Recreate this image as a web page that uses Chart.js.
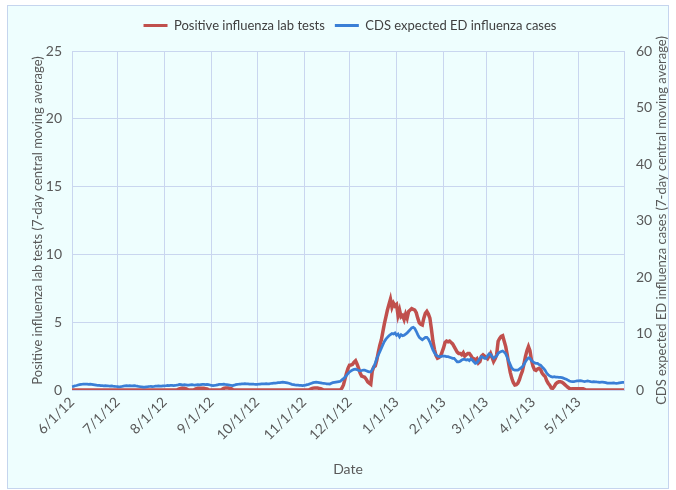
<!DOCTYPE html>
<html>
<head>
<meta charset="utf-8">
<script src="https://cdn.jsdelivr.net/npm/chart.js@4.4.0/dist/chart.umd.min.js"></script>
<style>
  html, body { margin: 0; padding: 0; background: #fff; }
</style>
</head>
<body>
<canvas id="graficoGripe" width="676" height="490"></canvas>
<script>
// daily values, 6/1/12 .. 5/31/13 (one line per month)
const labTests = [
  0,0,0,0,0,0,0,0,0,0,0,0,0,0,0,0,0,0,0,0,0,0,0,0,0,0,0,0,0,0,
  0,0,0,0,0,0,0,0,0,0,0,0,0,0,0,0,0,0,0,0,0,0,0,0,0,0,0,0,0,0,0,
  0,0,0,0,0,0,0,0,0,0.05,0.1,0.12,0.12,0.12,0.1,0.05,0,0,0,0,0.05,0.1,0.12,0.12,0.12,0.12,0.12,0.1,0.08,0.03,0,
  0,0,0,0,0,0,0,0.05,0.12,0.14,0.14,0.14,0.12,0.1,0.03,0,0,0,0,0,0,0,0,0,0,0,0,0,0,0,
  0,0,0,0,0,0,0,0,0,0,0,0,0,0,0,0,0,0,0,0,0,0,0,0,0,0,0,0,0,0,0,
  0,0,0,0,0.05,0.1,0.14,0.15,0.15,0.14,0.12,0.1,0.05,0,0,0,0,0,0,0,0,0,0,0,0,0.15,0.37,0.8,1.23,1.6,
  1.84,1.85,1.9,2.05,2.16,1.9,1.6,1.25,1.03,0.98,0.94,0.8,0.6,0.5,0.42,1.4,1.7,1.77,2.2,2.8,3.3,3.7,4.3,4.9,5.4,5.9,6.3,6.7,6.1,6.4,6.2,
  6.3,5.5,5.9,5.4,5.5,5.2,5.6,5.3,5.8,5.9,6.0,5.95,5.9,5.7,5.3,4.95,4.85,4.8,5.3,5.65,5.8,5.6,5.3,4.5,3.6,3.0,2.55,2.35,2.4,2.5,2.8,
  3.1,3.5,3.6,3.55,3.6,3.5,3.4,3.2,3.0,2.8,2.7,2.7,2.6,2.75,2.5,2.6,2.7,2.7,2.55,2.35,2.3,2.2,2.3,2.0,2.1,2.5,2.6,2.5,
  2.4,2.3,2.5,2.7,2.4,2.1,2.3,2.6,3.6,3.8,3.95,4.0,3.6,3.2,2.6,1.9,1.3,0.86,0.55,0.37,0.4,0.5,0.75,1.1,1.4,1.9,2.46,2.9,3.2,2.9,2.2,
  1.75,1.5,1.45,1.55,1.6,1.5,1.25,1.1,1.0,0.7,0.5,0.35,0.15,0.12,0.25,0.45,0.55,0.6,0.6,0.58,0.5,0.4,0.3,0.2,0.12,0.08,0.1,0.1,0.1,0.1,
  0.1,0.1,0.1,0.1,0.05,0,0,0,0,0,0,0,0,0,0,0,0,0,0,0,0,0,0,0,0,0,0,0,0,0,0
];

const cdsCases = [
  0.6,0.65,0.75,0.8,0.88,0.95,1.0,1.02,1.05,1.03,1.05,1.0,1.02,1.0,0.95,0.9,0.85,0.8,0.82,0.78,0.77,0.75,0.78,0.75,0.72,0.7,0.72,0.68,0.65,0.62,
  0.6,0.55,0.58,0.62,0.7,0.75,0.78,0.75,0.77,0.72,0.75,0.78,0.72,0.68,0.62,0.58,0.55,0.52,0.5,0.55,0.58,0.62,0.65,0.6,0.62,0.68,0.7,0.72,0.7,0.68,0.72,
  0.72,0.75,0.8,0.78,0.82,0.8,0.78,0.8,0.85,0.92,1.0,0.95,0.88,0.95,0.9,0.85,0.88,0.92,0.95,0.9,0.88,0.92,0.95,0.9,0.95,1.0,0.98,0.95,1.0,0.95,0.88,
  0.8,0.78,0.8,0.85,0.92,0.98,1.0,1.0,1.02,0.98,0.95,0.9,0.85,0.8,0.78,0.85,0.95,1.0,1.02,1.05,1.08,1.1,1.12,1.1,1.08,1.05,1.06,1.05,1.02,1.0,
  1.0,1.02,1.05,1.08,1.1,1.1,1.12,1.08,1.1,1.15,1.18,1.2,1.22,1.25,1.3,1.32,1.35,1.38,1.35,1.3,1.25,1.2,1.1,1.0,0.95,0.9,0.88,0.85,0.82,0.8,0.78,
  0.8,0.85,0.95,1.0,1.1,1.2,1.3,1.35,1.38,1.35,1.3,1.25,1.2,1.18,1.15,1.1,1.1,1.05,1.2,1.3,1.35,1.4,1.45,1.5,1.55,1.8,2.0,2.25,2.6,2.9,
  3.2,3.4,3.55,3.65,3.7,3.6,3.45,3.4,3.45,3.5,3.5,3.4,3.3,3.2,3.2,3.6,4.1,4.8,5.6,6.2,6.8,7.4,8.0,8.6,9.0,9.3,9.6,9.8,10.0,9.9,10.1,
  9.7,9.9,9.4,9.8,9.6,9.7,9.9,10.1,10.4,10.7,11.0,11.1,10.9,10.4,9.8,9.3,9.1,8.9,9.1,9.3,9.3,9.0,8.5,7.8,7.1,6.6,6.2,6.0,5.9,5.9,6.0,
  6.0,6.0,5.9,5.9,5.8,5.7,5.6,5.6,5.3,5.0,5.0,5.1,5.3,5.4,5.4,5.3,5.4,5.2,5.5,5.3,5.0,4.7,4.8,5.2,5.6,5.9,5.8,5.6,
  5.6,6.0,6.4,6.3,5.9,5.6,5.8,6.0,6.5,6.7,6.8,6.9,6.7,6.4,5.8,5.1,4.5,3.9,3.6,3.5,3.5,3.5,3.7,3.9,4.1,4.5,5.0,5.4,5.7,5.6,5.2,
  5.0,4.8,4.7,4.7,4.5,4.4,4.1,3.8,3.5,3.0,2.7,2.5,2.35,2.3,2.35,2.3,2.3,2.25,2.25,2.2,2.1,2.0,1.9,1.75,1.6,1.5,1.47,1.5,1.55,1.6,
  1.62,1.65,1.6,1.55,1.5,1.55,1.6,1.55,1.48,1.45,1.47,1.45,1.42,1.4,1.35,1.38,1.4,1.35,1.3,1.22,1.2,1.2,1.22,1.25,1.2,1.18,1.2,1.25,1.3,1.35,1.35
];

const corVermelho = "#c0504d";
const corAzul = "#3a7fd6";
const corGrade = "#c9d6ef";
const corTexto = "#595959";
const tituloDireita = "CDS expected ED influenza cases (7-day central moving average)";

// category labels: one per day
const datas = [];
for (let i = 0; i < labTests.length; i++) datas.push(new Date(2012, 5, 1 + i));
const rotulos = datas.map(d => (d.getMonth() + 1) + "/" + d.getDate() + "/" + String(d.getFullYear()).slice(2));

const fundo = {
  id: "fundo",
  beforeDraw(chart) {
    const ctx = chart.ctx;
    ctx.save();
    ctx.fillStyle = "#ffffff";
    ctx.fillRect(0, 0, chart.width, chart.height);
    ctx.fillStyle = "#eefefe";
    ctx.fillRect(7, 5, 661, 483);
    ctx.strokeStyle = "#c5d5ee";
    ctx.lineWidth = 1;
    ctx.strokeRect(7.5, 5.5, 661, 483);
    ctx.restore();
  },
  afterDraw(chart) {
    // right axis title reads bottom-to-top like the original
    const ctx = chart.ctx;
    const area = chart.chartArea;
    ctx.save();
    ctx.translate(662, (area.top + area.bottom) / 2);
    ctx.rotate(-Math.PI / 2);
    ctx.font = "13px Lato";
    ctx.fillStyle = corTexto;
    ctx.textAlign = "center";
    ctx.textBaseline = "middle";
    ctx.fillText(tituloDireita, 0, 0);
    ctx.restore();
  }
};

const espacoLegenda = {
  id: "espacoLegenda",
  beforeLayout(chart) {
    const lg = chart.legend;
    if (lg && !lg.ajustado) {
      const fitOriginal = lg.fit;
      lg.fit = function () {
        fitOriginal.call(this);
        this.height += 9;
      };
      lg.ajustado = true;
    }
  }
};

const graficoGripe = new Chart(document.getElementById("graficoGripe"), {
  type: "line",
  data: {
    labels: rotulos,
    datasets: [
      {
        label: "Positive influenza lab tests",
        data: labTests,
        borderColor: corVermelho,
        backgroundColor: corVermelho,
        borderWidth: 3.5,
        pointRadius: 0,
        yAxisID: "y",
        order: 2
      },
      {
        label: "CDS expected ED influenza cases",
        data: cdsCases,
        borderColor: corAzul,
        backgroundColor: corAzul,
        borderWidth: 2.75,
        pointRadius: 0,
        yAxisID: "y1",
        order: 1
      }
    ]
  },
  options: {
    responsive: false,
    animation: false,
    layout: { padding: { top: 9, left: 26, right: 2, bottom: 8 } },
    plugins: {
      tooltip: { enabled: false },
      legend: {
        position: "top",
        labels: {
          boxWidth: 24,
          boxHeight: 3,
          padding: 10,
          color: "#404040",
          font: { family: "Lato", size: 13 },
          sort: (a, b) => a.datasetIndex - b.datasetIndex,
          generateLabels(chart) {
            const itens = Chart.defaults.plugins.legend.labels.generateLabels(chart);
            itens.forEach(it => { it.fillStyle = it.strokeStyle; it.lineWidth = 0; });
            return itens;
          }
        }
      }
    },
    scales: {
      x: {
        grid: {
          color: ctx => (datas[ctx.index] && (datas[ctx.index].getDate() === 1 || ctx.index === datas.length - 1)) ? corGrade : "rgba(0,0,0,0)",
          drawTicks: false
        },
        border: { color: corGrade },
        ticks: {
          autoSkip: false,
          minRotation: 45,
          maxRotation: 45,
          padding: 4,
          color: corTexto,
          font: { family: "Lato", size: 14 },
          callback: (v, i) => datas[i].getDate() === 1 ? rotulos[i] : ""
        },
        title: { display: true, text: "Date", color: corTexto, font: { family: "Lato", size: 14 } },
        afterFit(s) { s.height = 92; }
      },
      y: {
        position: "left",
        min: 0,
        max: 25,
        grid: { color: corGrade, drawTicks: false },
        border: { color: corGrade },
        ticks: { stepSize: 5, padding: 10, color: corTexto, font: { family: "Lato", size: 14 } },
        title: {
          display: true,
          text: "Positive influenza lab tests (7-day central moving average)",
          color: corTexto,
          font: { family: "Lato", size: 13 }
        },
        afterFit(s) { s.width = 46; }
      },
      y1: {
        position: "right",
        min: 0,
        max: 60,
        grid: { display: false, drawTicks: false },
        border: { color: corGrade },
        ticks: { stepSize: 10, padding: 12, color: corTexto, font: { family: "Lato", size: 14 } },
        afterFit(s) { s.width = 50; }
      }
    }
  },
  plugins: [fundo, espacoLegenda]
});
</script>
</body>
</html>
